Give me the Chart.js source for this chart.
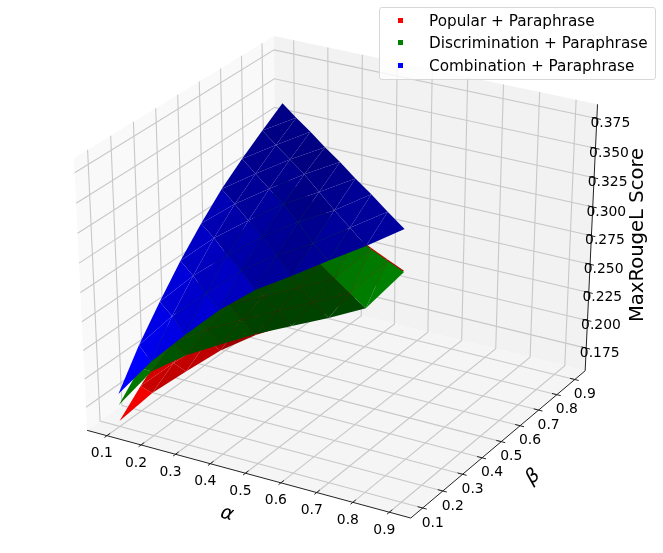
<!DOCTYPE html>
<html>
<head>
<meta charset="utf-8">
<script src="https://cdn.jsdelivr.net/npm/chart.js@4/dist/chart.umd.js"></script>
<style>
    body { margin: 0; background: #fff; font-family: "DejaVu Sans"; }
    #wrap { position: relative; width: 663px; height: 553px; }
    #legend {
        position: absolute; left: 379px; top: 7px; width: 275px; height: 71px;
        background: rgba(255, 255, 255, 0.8); border: 1px solid #d8d8d8; border-radius: 3px;
        font-size: 15.28px; color: #000;
    }
    #legend div { position: absolute; left: 49px; white-space: nowrap; line-height: 18px; }
    #legend i { position: absolute; left: -31px; top: 6px; width: 5px; height: 5px; }
</style>
</head>
<body>
<div id="wrap">
    <canvas id="myChart" width="663" height="553"></canvas>
    <div id="legend"></div>
</div>
<script>
const alphas = [0.1, 0.2, 0.3, 0.4, 0.5, 0.6, 0.7, 0.8, 0.9];
const betas = [0.1, 0.2, 0.3, 0.4, 0.5, 0.6, 0.7, 0.8, 0.9];
const scoreTicks = [0.175, 0.2, 0.225, 0.25, 0.275, 0.3, 0.325, 0.35, 0.375];

// one row per alpha, each row runs over beta while alpha + beta <= 1
const popularScores = [
    [0.1592, 0.1766, 0.192, 0.206, 0.219, 0.231, 0.242, 0.253, 0.276],
    [0.1923, 0.205, 0.218, 0.23, 0.242, 0.254, 0.265, 0.283],
    [0.219, 0.232, 0.243, 0.254, 0.264, 0.274, 0.291],
    [0.245, 0.256, 0.266, 0.276, 0.286, 0.3],
    [0.266, 0.276, 0.287, 0.297, 0.309],
    [0.283, 0.296, 0.306, 0.318],
    [0.3, 0.312, 0.3282],
    [0.325, 0.3385],
    [0.349]
];
const discriminationScores = [
    [0.1735, 0.193, 0.208, 0.222, 0.234, 0.244, 0.252, 0.258, 0.275],
    [0.2112, 0.223, 0.233, 0.243, 0.252, 0.26, 0.266, 0.282],
    [0.2329, 0.242, 0.251, 0.259, 0.267, 0.274, 0.29],
    [0.2501, 0.258, 0.265, 0.273, 0.281, 0.299],
    [0.2668, 0.273, 0.28, 0.288, 0.308],
    [0.2813, 0.288, 0.2953, 0.317],
    [0.2955, 0.303, 0.3271],
    [0.3111, 0.3374],
    [0.3481]
];
const combinationScores = [
    [0.1834, 0.2131, 0.238, 0.2611, 0.281, 0.299, 0.3135, 0.3265, 0.3388],
    [0.2197, 0.246, 0.268, 0.288, 0.305, 0.319, 0.332, 0.344],
    [0.2505, 0.273, 0.293, 0.31, 0.325, 0.338, 0.35],
    [0.2795, 0.3, 0.316, 0.331, 0.344, 0.355],
    [0.3038, 0.32, 0.335, 0.348, 0.361],
    [0.3228, 0.337, 0.352, 0.366],
    [0.3426, 0.357, 0.372],
    [0.3617, 0.377],
    [0.3825]
];

const seriesNames = ["Popular + Paraphrase", "Discrimination + Paraphrase", "Combination + Paraphrase"];
const seriesColors = [[255, 0, 0], [0, 128, 0], [0, 0, 255]];

// limits of the box the panes are drawn on
const alphaLim = [0.0417, 0.9583];
const betaLim = [0.0417, 0.9583];
const scoreLim = [0.1543, 0.3869];

// same camera as mplot3d: elev 30, azim -60, dist 10
const el = 30 * Math.PI / 180, az = -60 * Math.PI / 180, dist = 10;
const n = [Math.cos(az) * Math.cos(el), Math.sin(az) * Math.cos(el), Math.sin(el)];
const uu = [-n[1] / Math.cos(el), n[0] / Math.cos(el), 0];
const vv = [-n[2] * uu[1], n[2] * uu[0], n[0] * uu[1] - n[1] * uu[0]];

function dot(a, b) { return a[0] * b[0] + a[1] * b[1] + a[2] * b[2]; }

// u, v, t are positions inside the box, 0 to 1
function project(u, v, t) {
    const d = [u - 0.5, v - 0.5, t - 0.5];
    const w = dist - dot(n, d);
    return { x: dot(uu, d) / w, y: dot(vv, d) / w, w: w };
}
function boxA(a) { return (a - alphaLim[0]) / (alphaLim[1] - alphaLim[0]); }
function boxB(b) { return (b - betaLim[0]) / (betaLim[1] - betaLim[0]); }
function boxZ(z) { return (z - scoreLim[0]) / (scoreLim[1] - scoreLim[0]); }

const datasets = [];

function addPolygon(points, color) {
    const pts = points.map(p => ({ x: p.x, y: p.y }));
    pts.push(pts[0]);
    datasets.push({
        data: pts, showLine: true, fill: 'shape', backgroundColor: color,
        borderWidth: 0, pointRadius: 0, tension: 0
    });
}
function addLine(points, color, width) {
    datasets.push({
        data: points.map(p => ({ x: p.x, y: p.y })), showLine: true, fill: false,
        borderColor: color, borderWidth: width, pointRadius: 0, tension: 0
    });
}

// panes
addPolygon([project(0, 0, 0), project(0, 1, 0), project(0, 1, 1), project(0, 0, 1)], '#f9f9f9');
addPolygon([project(0, 1, 0), project(1, 1, 0), project(1, 1, 1), project(0, 1, 1)], '#f2f2f2');
addPolygon([project(0, 0, 0), project(1, 0, 0), project(1, 1, 0), project(0, 1, 0)], '#f5f5f5');

// grid
const gridColor = '#c8c8c8';
alphas.forEach(a => {
    const u = boxA(a);
    addLine([project(u, 0, 0), project(u, 1, 0), project(u, 1, 1)], gridColor, 1.1);
});
betas.forEach(b => {
    const v = boxB(b);
    addLine([project(1, v, 0), project(0, v, 0), project(0, v, 1)], gridColor, 1.1);
});
scoreTicks.forEach(z => {
    const t = boxZ(z);
    addLine([project(0, 0, t), project(0, 1, t), project(1, 1, t)], gridColor, 1.1);
});

// axis lines and tick marks
const axisColor = '#222';
addLine([project(0, 0, 0), project(1, 0, 0)], axisColor, 1);
addLine([project(1, 0, 0), project(1, 1, 0)], axisColor, 1);
addLine([project(1, 1, 0), project(1, 1, 1)], axisColor, 1);
alphas.forEach(a => addLine([project(boxA(a), -0.012, 0), project(boxA(a), 0.016, 0)], axisColor, 1));
betas.forEach(b => addLine([project(0.985, boxB(b), 0), project(1.012, boxB(b), 0)], axisColor, 1));
scoreTicks.forEach(z => addLine([project(0.985, 1, boxZ(z)), project(1.012, 1, boxZ(z))], axisColor, 1));

function addSurface(scores, rgb) {
    const node = (i, j) => [alphas[i], betas[j], scores[i][j]];
    const tris = [];
    scores.forEach((row, i) => {
        row.forEach((z, j) => {
            if (i + 1 < scores.length && j + 1 < row.length) {
                tris.push([node(i, j), node(i + 1, j), node(i, j + 1)]);
                if (j + 1 < scores[i + 1].length) {
                    tris.push([node(i + 1, j), node(i + 1, j + 1), node(i, j + 1)]);
                }
            }
        });
    });
    // old mplot3d shading: light from [-1, -1, 0.5], stretched to 0.5 - 1 on each surface
    const shades = tris.map(tri => {
        const a = tri[1].map((c, k) => c - tri[0][k]);
        const b = tri[2].map((c, k) => c - tri[0][k]);
        const nrm = [a[1] * b[2] - a[2] * b[1], a[2] * b[0] - a[0] * b[2], a[0] * b[1] - a[1] * b[0]];
        return (-nrm[0] - nrm[1] + 0.5 * nrm[2]) / Math.hypot(nrm[0], nrm[1], nrm[2]);
    });
    const lo = Math.min(...shades), hi = Math.max(...shades);
    const items = tris.map((tri, i) => {
        const pts = tri.map(p => project(boxA(p[0]), boxB(p[1]), boxZ(p[2])));
        const k = 0.5 + 0.5 * (shades[i] - lo) / (hi - lo);
        return { pts: pts, depth: (pts[0].w + pts[1].w + pts[2].w) / 3, k: k };
    });
    items.sort((p, q) => q.depth - p.depth);
    items.forEach(it => {
        addPolygon(it.pts, `rgb(${rgb.map(c => Math.round(c * it.k)).join(',')})`);
    });
}

addSurface(popularScores, seriesColors[0]);
addSurface(discriminationScores, seriesColors[1]);
addSurface(combinationScores, seriesColors[2]);

// chart.js paints the first dataset last
datasets.forEach((d, i) => { d.order = datasets.length - i; });

const tickLabels = {
    id: 'tickLabels',
    afterDatasetsDraw(chart) {
        const ctx = chart.ctx;
        const sx = chart.scales.x, sy = chart.scales.y;
        const put = (p, dx, dy, text) => {
            ctx.fillText(text, sx.getPixelForValue(p.x) + dx, sy.getPixelForValue(p.y) + dy);
        };
        ctx.save();
        ctx.fillStyle = '#000';
        ctx.textAlign = 'center';
        ctx.textBaseline = 'middle';
        ctx.font = '13.9px "DejaVu Sans"';
        alphas.forEach(a => put(project(boxA(a), 0, 0), -5, 18, a.toFixed(1)));
        betas.forEach(b => put(project(1, boxB(b), 0), 10, 15, b.toFixed(1)));
        scoreTicks.forEach(z => put(project(1, 1, boxZ(z)), 13.5, 5, z.toFixed(3)));

        const turned = (text, x, y, angle, font) => {
            ctx.save();
            ctx.translate(x, y);
            ctx.rotate(angle * Math.PI / 180);
            ctx.font = font;
            ctx.fillText(text, 0, 0);
            ctx.restore();
        };
        turned('α', 227, 514, 15, 'italic 19.4px "DejaVu Sans"');
        turned('β', 533, 477, -40, 'italic 19.4px "DejaVu Sans"');
        turned('MaxRougeL Score', 638, 235, -90, '19.6px "DejaVu Sans"');
        ctx.restore();
    }
};

const chart = new Chart(document.getElementById('myChart'), {
    type: 'scatter',
    data: { datasets: datasets },
    options: {
        responsive: false,
        animation: false,
        devicePixelRatio: 1,
        layout: { padding: 0 },
        scales: {
            // fitted so that the projected box lands where the panes are in the picture
            x: { display: false, min: -340 / 3736, max: 323 / 3736 },
            y: { display: false, min: -284.2 / 3108, max: 268.8 / 3108 }
        },
        plugins: { legend: { display: false }, tooltip: { enabled: false } }
    },
    plugins: [tickLabels]
});

const legend = document.getElementById('legend');
seriesNames.forEach((name, i) => {
    const row = document.createElement('div');
    row.style.top = (4 + i * 22.4) + 'px';
    row.textContent = name;
    const mark = document.createElement('i');
    mark.style.background = `rgb(${seriesColors[i].join(',')})`;
    row.appendChild(mark);
    legend.appendChild(row);
});
</script>
</body>
</html>
